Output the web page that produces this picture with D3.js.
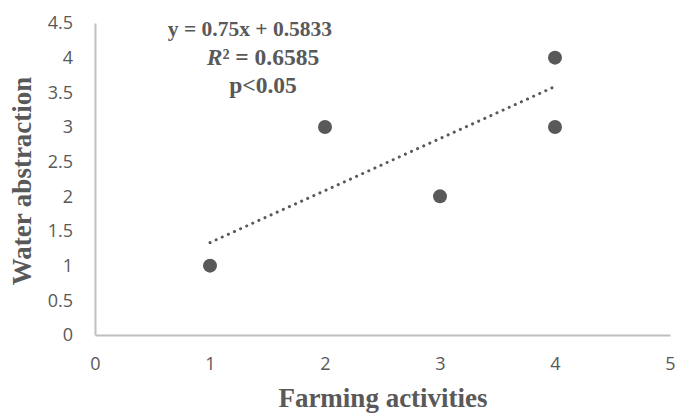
<!DOCTYPE html>
<html>
<head>
    <title></title>
    <meta charset="utf-8">
    <style>
        body { margin: 0; background: #fff; }
    </style>
</head>
<body>
<script src="https://cdn.jsdelivr.net/npm/d3@7"></script>
<script>
    // observed points
    var farming = [1, 2, 3, 4, 4];
    var water   = [1, 3, 2, 4, 3];
    var xTicks = [0, 1, 2, 3, 4, 5];
    var yTicks = [0, 0.5, 1, 1.5, 2, 2.5, 3, 3.5, 4, 4.5];
    // linear trend as printed on the chart
    var slope = 0.75, intercept = 0.5833;

    var grey = '#595959';

    var svg = d3.select('body').append('svg')
        .attr('width', 677)
        .attr('height', 413);

    var x = d3.scaleLinear().domain([0, 5]).range([95, 670]);
    var y = d3.scaleLinear().domain([0, 4.5]).range([335, 23]);

    // axes
    var xAxis = svg.append('g')
        .attr('transform', 'translate(0,' + y(0) + ')')
        .call(d3.axisBottom(x).tickValues(xTicks).tickSize(0).tickPadding(22)
            .tickFormat(d3.format('')));
    var yAxis = svg.append('g')
        .attr('transform', 'translate(' + x(0) + ',0)')
        .call(d3.axisLeft(y).tickValues(yTicks).tickSize(0).tickPadding(22)
            .tickFormat(d3.format('')));

    [xAxis, yAxis].forEach(function (g) {
        g.select('.domain').attr('stroke', '#bfbfbf').attr('stroke-width', 2);
        g.selectAll('text')
            .attr('fill', grey)
            .attr('font-family', 'Open Sans')
            .attr('font-size', 18);
    });

    // trendline
    var xs = d3.extent(farming);
    svg.append('line')
        .attr('x1', x(xs[0]))
        .attr('y1', y(slope * xs[0] + intercept))
        .attr('x2', x(xs[1]))
        .attr('y2', y(slope * xs[1] + intercept))
        .attr('stroke', grey)
        .attr('stroke-width', 3)
        .attr('stroke-linecap', 'round')
        .attr('stroke-dasharray', '0.1 6.6');

    // points
    svg.selectAll('circle.pt')
        .data(farming)
        .enter()
        .append('circle')
        .attr('class', 'pt')
        .attr('cx', function (d) { return x(d); })
        .attr('cy', function (d, i) { return y(water[i]); })
        .attr('r', 7)
        .attr('fill', grey);

    // equation label
    var eq = svg.append('g')
        .attr('font-family', 'Liberation Serif, Times New Roman, serif')
        .attr('font-weight', 'bold')
        .attr('fill', grey)
        .attr('text-anchor', 'middle');
    eq.append('text').attr('x', 250).attr('y', 36).attr('font-size', 21.5)
        .text('y = ' + slope + 'x + ' + intercept);
    var r2 = eq.append('text').attr('x', 263).attr('y', 65).attr('font-size', 23.5);
    r2.append('tspan').attr('font-style', 'italic').text('R');
    r2.append('tspan').text('² = 0.6585');
    eq.append('text').attr('x', 263).attr('y', 93).attr('font-size', 23.5)
        .text('p<0.05');

    // axis titles
    svg.append('text')
        .attr('x', 383)
        .attr('y', 407)
        .attr('text-anchor', 'middle')
        .attr('font-family', 'Liberation Serif, Times New Roman, serif')
        .attr('font-weight', 'bold')
        .attr('font-size', 27)
        .attr('fill', grey)
        .text('Farming activities');

    svg.append('text')
        .attr('transform', 'translate(31,181) rotate(-90)')
        .attr('text-anchor', 'middle')
        .attr('font-family', 'Liberation Serif, Times New Roman, serif')
        .attr('font-weight', 'bold')
        .attr('font-size', 27)
        .attr('fill', grey)
        .text('Water abstraction');
</script>
</body>
</html>
